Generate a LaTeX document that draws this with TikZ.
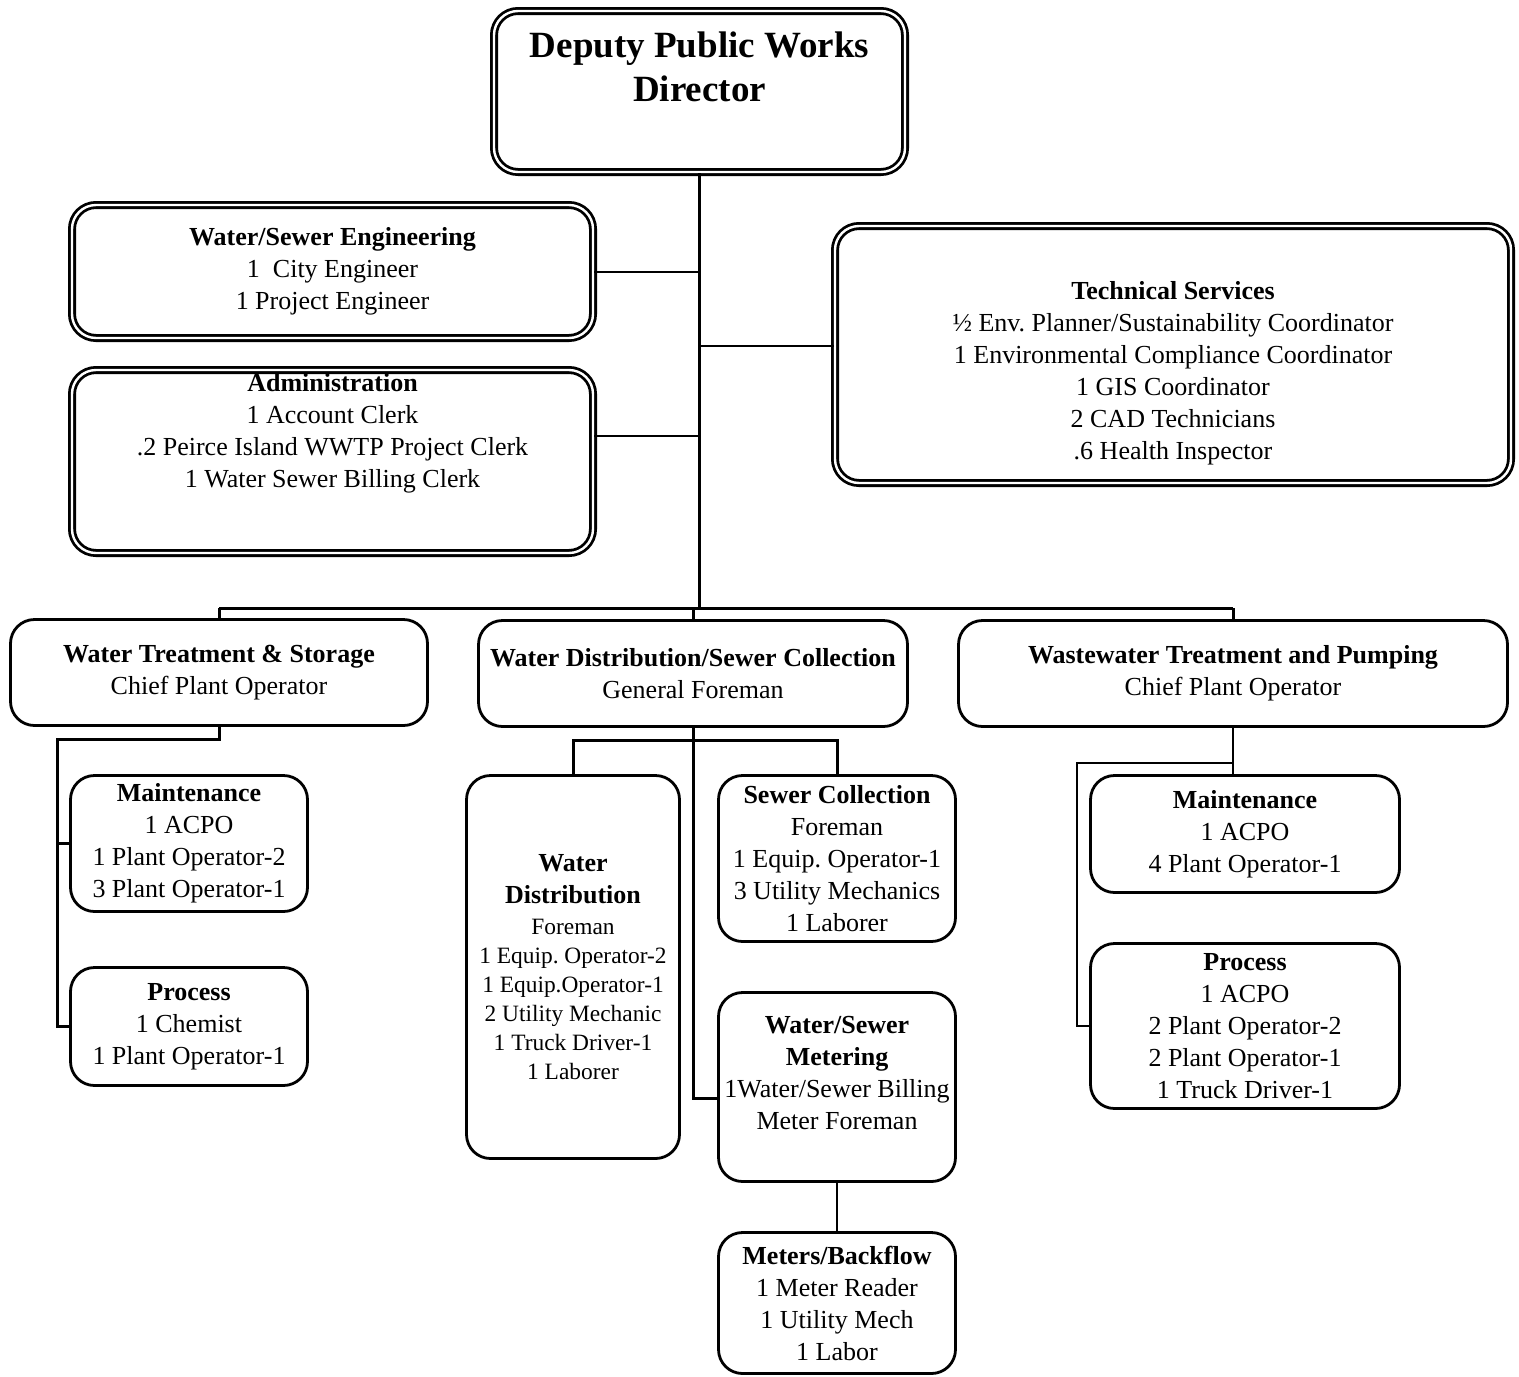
\documentclass[tikz,border=0pt]{standalone}
\usepackage{fontspec}
\setmainfont{Liberation Serif}
\tikzset{
  dept/.style={rectangle, rounded corners=12pt, draw=black, line width=1.4pt, double=white,
    double distance=1.2pt, align=center, inner sep=0pt, font=\fontsize{13}{16}\selectfont},
  unit/.style={rectangle, rounded corners=12pt, draw=black, line width=1.4pt, align=center,
    inner sep=0pt, font=\fontsize{13}{16}\selectfont},
  txt/.style={align=center, inner sep=0pt, font=\fontsize{13}{16}\selectfont},
  link/.style={line width=1.5pt, black},
  thinlink/.style={line width=1pt, black},
}
\begin{document}
\begin{tikzpicture}[x=0.5pt, y=-0.5pt]
        \useasboundingbox (0,0) rectangle (1519,1376);
        \node[dept, minimum width=205.5pt, minimum height=80.5pt] (dir) at (699.5,91.5) {};
        \node[txt, font=\fontsize{18.5}{22}\selectfont\bfseries] (dirt) at (699.5,67) {Deputy Public Works\\Director};
        \node[dept, minimum width=260.5pt, minimum height=66.5pt] (eng) at (332.5,271.5) {\textbf{Water/Sewer Engineering}\\1\ \ City Engineer\\1 Project Engineer};
        \node[dept, minimum width=260.5pt, minimum height=91.5pt] (adm) at (332.5,461.5) {};
        \node[txt] (admt) at (332.5,433) {\textbf{Administration}\\1 Account Clerk\\.2 Peirce Island WWTP Project Clerk\\1 Water Sewer Billing Clerk};
        \node[dept, minimum width=338pt, minimum height=128.5pt] (tech) at (1173,354.5) {};
        \node[txt] (techt) at (1173,373) {\textbf{Technical Services}\\½ Env.\ Planner/Sustainability Coordinator\\1 Environmental Compliance Coordinator\\1 GIS Coordinator\\2 CAD Technicians\\.6 Health Inspector};
        \node[unit, minimum width=208.5pt, minimum height=53pt] (wts) at (219,672.5) {\textbf{Water Treatment \& Storage}\\Chief Plant Operator};
        \node[unit, minimum width=214.5pt, minimum height=53pt] (wdsc) at (693,673.5) {\textbf{Water Distribution/Sewer Collection}\\General Foreman};
        \node[unit, minimum width=274.5pt, minimum height=53pt] (wwtp) at (1233,673.5) {\textbf{Wastewater Treatment and Pumping}\\Chief Plant Operator};
        \node[unit, minimum width=118.5pt, minimum height=68pt] (wtm) at (189,843.5) {\textbf{Maintenance}\\1 ACPO\\1 Plant Operator-2\\3 Plant Operator-1};
        \node[unit, minimum width=118.5pt, minimum height=59pt] (wtp) at (189,1026.5) {\textbf{Process}\\1 Chemist\\1 Plant Operator-1};
        \node[unit, minimum width=106.5pt, minimum height=191.5pt, font=\fontsize{11.7}{14.5}\selectfont] (wd) at (573,967) {{\fontsize{13}{16}\selectfont\bfseries Water}\\[1.5pt]{\fontsize{13}{16}\selectfont\bfseries Distribution}\\[1pt]Foreman\\1 Equip.\ Operator-2\\1 Equip.Operator-1\\2 Utility Mechanic\\1 Truck Driver-1\\1 Laborer};
        \node[unit, minimum width=118.5pt, minimum height=83pt] (sc) at (837,858.5) {\textbf{Sewer Collection}\\Foreman\\1 Equip.\ Operator-1\\3 Utility Mechanics\\1 Laborer};
        \node[unit, minimum width=118.5pt, minimum height=94.5pt] (met) at (837,1087) {};
        \node[txt] (mett) at (837,1073) {\textbf{Water/Sewer}\\\textbf{Metering}\\1Water/Sewer Billing\\Meter Foreman};
        \node[unit, minimum width=118.5pt, minimum height=70.5pt] (mb) at (837,1303) {\textbf{Meters/Backflow}\\1 Meter Reader\\1 Utility Mech\\1 Labor};
        \node[unit, minimum width=154.5pt, minimum height=58.5pt] (wwm) at (1245,834) {\textbf{Maintenance}\\1 ACPO\\4 Plant Operator-1};
        \node[unit, minimum width=154.5pt, minimum height=82.5pt] (wwp) at (1245,1026) {\textbf{Process}\\1 ACPO\\2 Plant Operator-2\\2 Plant Operator-1\\1 Truck Driver-1};
        \coordinate (busL) at (219,608);
        \coordinate (busR) at (1233,608);
        \draw[link] (dir.south) -- (dir.south |- busL);
        \draw[link] (busL) -- (busR);
        \foreach \a in {wts, wdsc, wwtp}
          \draw[link] (\a.north |- busL) -- (\a.north);
        \draw[thinlink] (eng.east) -- (eng.east -| dir.south);
        \draw[thinlink] ([yshift=12.75pt]adm.east) -- ([yshift=12.75pt]adm.east -| dir.south);
        \draw[thinlink] ([yshift=4.25pt]tech.west) -- ([yshift=4.25pt]tech.west -| dir.south);
        \coordinate (wtsj) at (57,739);
        \draw[link] (wts.south) |- (wtsj) |- (wtp.west);
        \draw[link] (wtm.west) -- (wtm.west -| wtsj);
        \coordinate (wdsj) at (693,740);
        \draw[link] (wdsc.south) |- ([yshift=-5.5pt]met.west);
        \draw[link] (wd.north) |- (wdsj) -| (sc.north);
        \draw[thinlink] (met.south) -- (mb.north);
        \coordinate (wwj) at (1233,763);
        \coordinate (wwk) at (1077,763);
        \draw[thinlink] (wwtp.south) -- (wwtp.south |- wwm.north);
        \draw[thinlink] (wwj) -- (wwk) |- (wwp.west);
      \end{tikzpicture}
\end{document}
